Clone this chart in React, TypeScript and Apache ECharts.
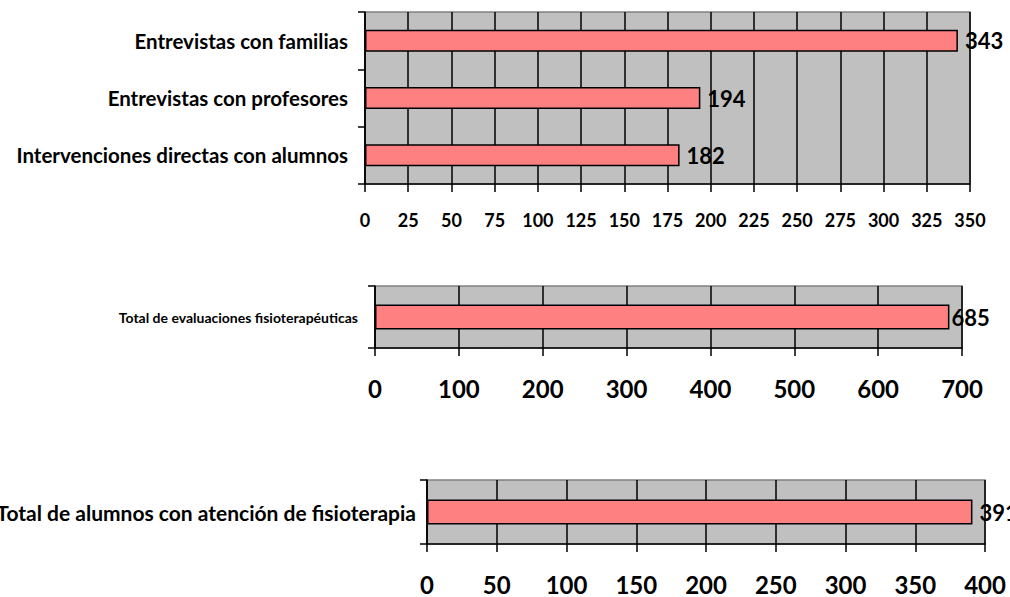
import React, { useEffect, useRef } from "react";
import * as echarts from "echarts";

const cats1 = ["Entrevistas con familias", "Entrevistas con profesores", "Intervenciones directas con alumnos"];
const vals1 = [343, 194, 182];
const cats2 = ["Total de evaluaciones fisioterapéuticas"];
const vals2 = [685];
const cats3 = ["Total de alumnos con atención de fisioterapia"];
const vals3 = [391];

const FONT = "Lato, 'Open Sans', sans-serif";

export default function App() {
  const ref = useRef<HTMLDivElement>(null);
  useEffect(() => {
    if (!ref.current) return;
    const chart = echarts.init(ref.current, undefined, { renderer: "svg" });
    const grids = [
      { left: 365, top: 12, width: 605, height: 172 },
      { left: 375, top: 286, width: 587, height: 62 },
      { left: 427, top: 480, width: 558, height: 64 },
    ].map((g) => ({
      ...g,
      show: true,
      backgroundColor: "#C0C0C0",
      borderColor: "#808080",
      borderWidth: 1.5,
      containLabel: false,
      outerBoundsMode: "none",
    }));
    const xCfg = [
      { max: 350, interval: 25, fs: 18, margin: 27 },
      { max: 700, interval: 100, fs: 24, margin: 28 },
      { max: 400, interval: 50, fs: 24, margin: 28 },
    ];
    const xAxis = xCfg.map((c, i) => ({
      type: "value",
      gridIndex: i,
      min: 0,
      max: c.max,
      interval: c.interval,
      axisLine: { show: true, lineStyle: { color: "#000", width: 1.5 } },
      axisTick: { show: true, length: 8, lineStyle: { color: "#000", width: 1.5 } },
      splitLine: { show: true, lineStyle: { color: "#000", width: 1.5 } },
      axisLabel: { color: "#000", fontWeight: "bold", fontSize: c.fs, fontFamily: FONT, margin: c.margin },
    }));
    const yCfg = [
      { data: cats1, fs: 20.5, margin: 17 },
      { data: cats2, fs: 14, margin: 17 },
      { data: cats3, fs: 21, margin: 11 },
    ];
    const yAxis = yCfg.map((c, i) => ({
      type: "category",
      gridIndex: i,
      inverse: true,
      data: c.data,
      axisLine: { show: true, lineStyle: { color: "#000", width: 1.5 } },
      axisTick: { show: true, length: 7, lineStyle: { color: "#000", width: 1.5 } },
      splitLine: { show: false },
      axisLabel: { color: "#000", fontWeight: "bold", fontSize: c.fs, fontFamily: FONT, margin: c.margin },
    }));
    const sCfg = [
      { data: vals1, bw: 22, fs: 22, d: 7 },
      { data: vals2, bw: 25, fs: 22, d: 2 },
      { data: vals3, bw: 25, fs: 22, d: 7 },
    ];
    const series = sCfg.map((c, i) => ({
      type: "bar",
      xAxisIndex: i,
      yAxisIndex: i,
      data: c.data,
      barWidth: c.bw,
      itemStyle: { color: "#FF8080", borderColor: "#000", borderWidth: 1.5 },
      label: {
        show: true,
        position: "right",
        distance: c.d,
        color: "#000",
        fontWeight: "bold",
        fontSize: c.fs,
        fontFamily: FONT,
      },
    }));
    chart.setOption({ animation: false, grid: grids, xAxis, yAxis, series });
    return () => chart.dispose();
  }, []);
  return (
    <div style={{ position: "fixed", left: 0, top: 0, width: 1010, height: 597, overflow: "hidden", background: "#fff" }}>
      <div ref={ref} style={{ width: 1010, height: 597 }} />
    </div>
  );
}
